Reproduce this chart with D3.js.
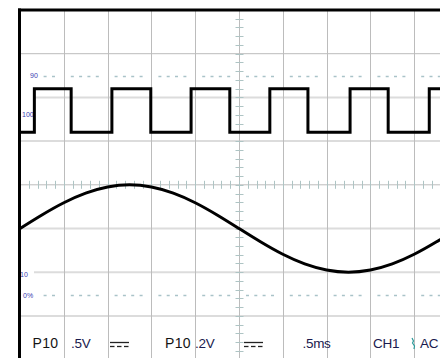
<!DOCTYPE html>
<html>
<head>
<meta charset="utf-8">
<script src="https://cdn.jsdelivr.net/npm/d3@7"></script>
<style>
    html, body { margin: 0; padding: 0; background: #fff; overflow: hidden; }
    svg { display: block; }
</style>
</head>
<body>
<div id="scope-div"></div>
<script>
// screen: 10 time divisions of .5ms, 8 volt divisions
var timeDivs = [0, 0.5, 1, 1.5, 2, 2.5, 3, 3.5, 4, 4.5, 5];
var voltDivs = [-4, -3, -2, -1, 0, 1, 2, 3, 4];

// CH1 square wave, edges in ms, levels in divisions
var squareRises = [0.164, 1.049, 1.953, 2.852, 3.768, 4.672];
var squareFalls = [0.584, 1.493, 2.395, 3.287, 4.203];
var squareLevels = [1.2, 2.2];

// CH2 sine, read every .25ms, in divisions
var sineTimes = [0, 0.25, 0.5, 0.75, 1, 1.25, 1.5, 1.75, 2, 2.25, 2.5,
    2.75, 3, 3.25, 3.5, 3.75, 4, 4.25, 4.5, 4.75, 5];
var sineValues = [-1.0, -0.69, -0.41, -0.19, -0.05, 0, -0.05, -0.19, -0.41, -0.69, -1.0,
    -1.31, -1.59, -1.81, -1.95, -2.0, -1.95, -1.81, -1.59, -1.31, -1.0];

// rise time markers
var markerLabels = ['90', '100', '10', '0%'];
var markerLevels = [2.5, 1.61, -2.05, -2.53];
var markerDashed = [true, false, false, true];

// readout line
var readoutLabels = ['P10', '.5V', 'P10', '.2V', '.5ms', 'CH1', 'AC'];
var readoutKinds = ['probe', 'value', 'probe', 'value', 'value', 'value', 'value'];

(function () {
    'use strict';

    var _width = 440;
    var _height = 358;
    var _left = 20;
    var _top = 10;
    var _div = 43.8;
    var _vdiv = 43.7;

    var x = d3.scaleLinear().domain([0, 5]).range([_left, _left + 10 * _div]);
    var y = d3.scaleLinear().domain([-4, 4]).range([_top + 8 * _vdiv, _top]);

    var svg = d3.select('#scope-div').append('svg')
        .attr('width', _width)
        .attr('height', _height);

    svg.append('rect')
        .attr('width', _width)
        .attr('height', _height)
        .style('fill', '#fff');

    var grid = svg.append('g').attr('id', 'grid');

    // horizontal grid lines
    grid.selectAll('line.h').data(voltDivs.filter(function (v) { return v > -4 && v < 4; }))
        .enter().append('line')
        .attr('class', 'h')
        .attr('x1', function (d) { return (d === 2 || d === -2) ? 34 : _left; })
        .attr('x2', _width)
        .attr('y1', function (d) { return y(d); })
        .attr('y2', function (d) { return y(d); })
        .style('stroke', function (d) { return (d === 3 || d === 0) ? '#bcbcbc' : '#dcdcdc'; })
        .style('stroke-width', function (d) { return (d === 3 || d === 0) ? 1 : 2; });

    // vertical grid lines
    grid.selectAll('line.v').data(timeDivs.filter(function (t) { return t > 0; }))
        .enter().append('line')
        .attr('class', 'v')
        .attr('x1', function (d) { return Math.round(x(d)) + 0.5; })
        .attr('x2', function (d) { return Math.round(x(d)) + 0.5; })
        .attr('y1', _top)
        .attr('y2', _height)
        .style('stroke', '#bcbcbc')
        .style('stroke-width', 1);

    // centre axis minor ticks
    var cx = Math.round(x(2.5)) + 0.5;
    var cy = y(0);
    grid.selectAll('line.tx').data(d3.range(1, 50).map(function (i) { return i * 0.1; }))
        .enter().append('line')
        .attr('class', 'tx')
        .attr('x1', function (d) { return Math.round(x(d)) + 0.5; })
        .attr('x2', function (d) { return Math.round(x(d)) + 0.5; })
        .attr('y1', cy - 4)
        .attr('y2', cy + 4)
        .style('stroke', '#aec4c4');

    grid.selectAll('line.ty').data(d3.range(-19, 20).map(function (i) { return i * 0.2; }))
        .enter().append('line')
        .attr('class', 'ty')
        .attr('x1', cx - 4)
        .attr('x2', cx + 4)
        .attr('y1', function (d) { return Math.round(y(d)) + 0.5; })
        .attr('y2', function (d) { return Math.round(y(d)) + 0.5; })
        .style('stroke', '#aec4c4');

    // dashed marker lines, four dashes per division
    var dashes = [];
    markerLevels.forEach(function (level, i) {
        if (!markerDashed[i]) { return; }
        timeDivs.forEach(function (t) {
            [7, 15.3, 23.6, 32].forEach(function (off) {
                var x0 = x(t) + off;
                if (x0 > 40 && x0 < _width) {
                    dashes.push({ x: x0, y: Math.round(y(level)) + 0.5 });
                }
            });
        });
    });
    grid.selectAll('line.dash').data(dashes)
        .enter().append('line')
        .attr('class', 'dash')
        .attr('x1', function (d) { return d.x; })
        .attr('x2', function (d) { return d.x + 3; })
        .attr('y1', function (d) { return d.y; })
        .attr('y2', function (d) { return d.y; })
        .style('stroke', '#a9c3c8')
        .style('stroke-width', 1.5);

    // marker labels
    var labelX = [30, 22, 20, 23];
    svg.append('g').selectAll('text').data(markerLabels)
        .enter().append('text')
        .attr('x', function (d, i) { return labelX[i]; })
        .attr('y', function (d, i) { return y(markerLevels[i]) + 2.5; })
        .text(function (d) { return d; })
        .style('font-family', 'Liberation Sans, Arial, sans-serif')
        .style('font-size', '7px')
        .style('fill', '#3c3cb0');

    // CH1 square wave
    var edges = squareRises.map(function (t) { return { t: t, up: true }; })
        .concat(squareFalls.map(function (t) { return { t: t, up: false }; }))
        .sort(function (a, b) { return a.t - b.t; });
    var level = squareLevels[0];
    var squarePts = [[0, level]];
    edges.forEach(function (e) {
        squarePts.push([e.t, level]);
        level = e.up ? squareLevels[1] : squareLevels[0];
        squarePts.push([e.t, level]);
    });
    squarePts.push([5, level]);

    var line = d3.line()
        .x(function (d) { return x(d[0]); })
        .y(function (d) { return y(d[1]); });

    svg.append('path')
        .datum(squarePts)
        .attr('d', line)
        .style('fill', 'none')
        .style('stroke', '#000')
        .style('stroke-width', 3)
        .style('stroke-linejoin', 'miter');

    // CH2 sine
    svg.append('path')
        .datum(sineTimes.map(function (t, i) { return [t, sineValues[i]]; }))
        .attr('d', line.curve(d3.curveNatural))
        .style('fill', 'none')
        .style('stroke', '#000')
        .style('stroke-width', 3);

    // frame
    svg.append('line')
        .attr('x1', 18).attr('x2', _width)
        .attr('y1', _top).attr('y2', _top)
        .style('stroke', '#000').style('stroke-width', 3);
    svg.append('line')
        .attr('x1', 19.5).attr('x2', 19.5)
        .attr('y1', _top - 1.5).attr('y2', _height)
        .style('stroke', '#000').style('stroke-width', 3);

    // readout
    var readoutX = [32.5, 71, 165, 195, 302.5, 373, 420];
    svg.append('g').selectAll('text').data(readoutLabels)
        .enter().append('text')
        .attr('x', function (d, i) { return readoutX[i]; })
        .attr('y', 348)
        .text(function (d) { return d; })
        .style('font-family', 'Liberation Sans, Arial, sans-serif')
        .style('font-size', function (d, i) { return readoutKinds[i] === 'probe' ? '14px' : '13.5px'; })
        .style('letter-spacing', function (d, i) { return readoutKinds[i] === 'probe' ? '0.3px' : '-0.3px'; })
        .style('fill', function (d, i) { return readoutKinds[i] === 'probe' ? '#141414' : '#1a1a4e'; });

    // coupling symbols: solid over dashed
    [110, 244].forEach(function (x0) {
        var g = svg.append('g').style('stroke', '#222').style('stroke-width', 1.3);
        g.append('line').attr('x1', x0).attr('x2', x0 + 19).attr('y1', 342.5).attr('y2', 342.5);
        [0, 7, 14].forEach(function (o) {
            g.append('line').attr('x1', x0 + o).attr('x2', x0 + o + 4.5).attr('y1', 346.5).attr('y2', 346.5);
        });
    });

    // trigger slope
    svg.append('path')
        .attr('d', 'M412,338 L413.5,341 L412.5,343 L414.5,346 L414,349')
        .style('fill', 'none')
        .style('stroke', '#2a9a9a')
        .style('stroke-width', 1.2);
})();
</script>
</body>
</html>
